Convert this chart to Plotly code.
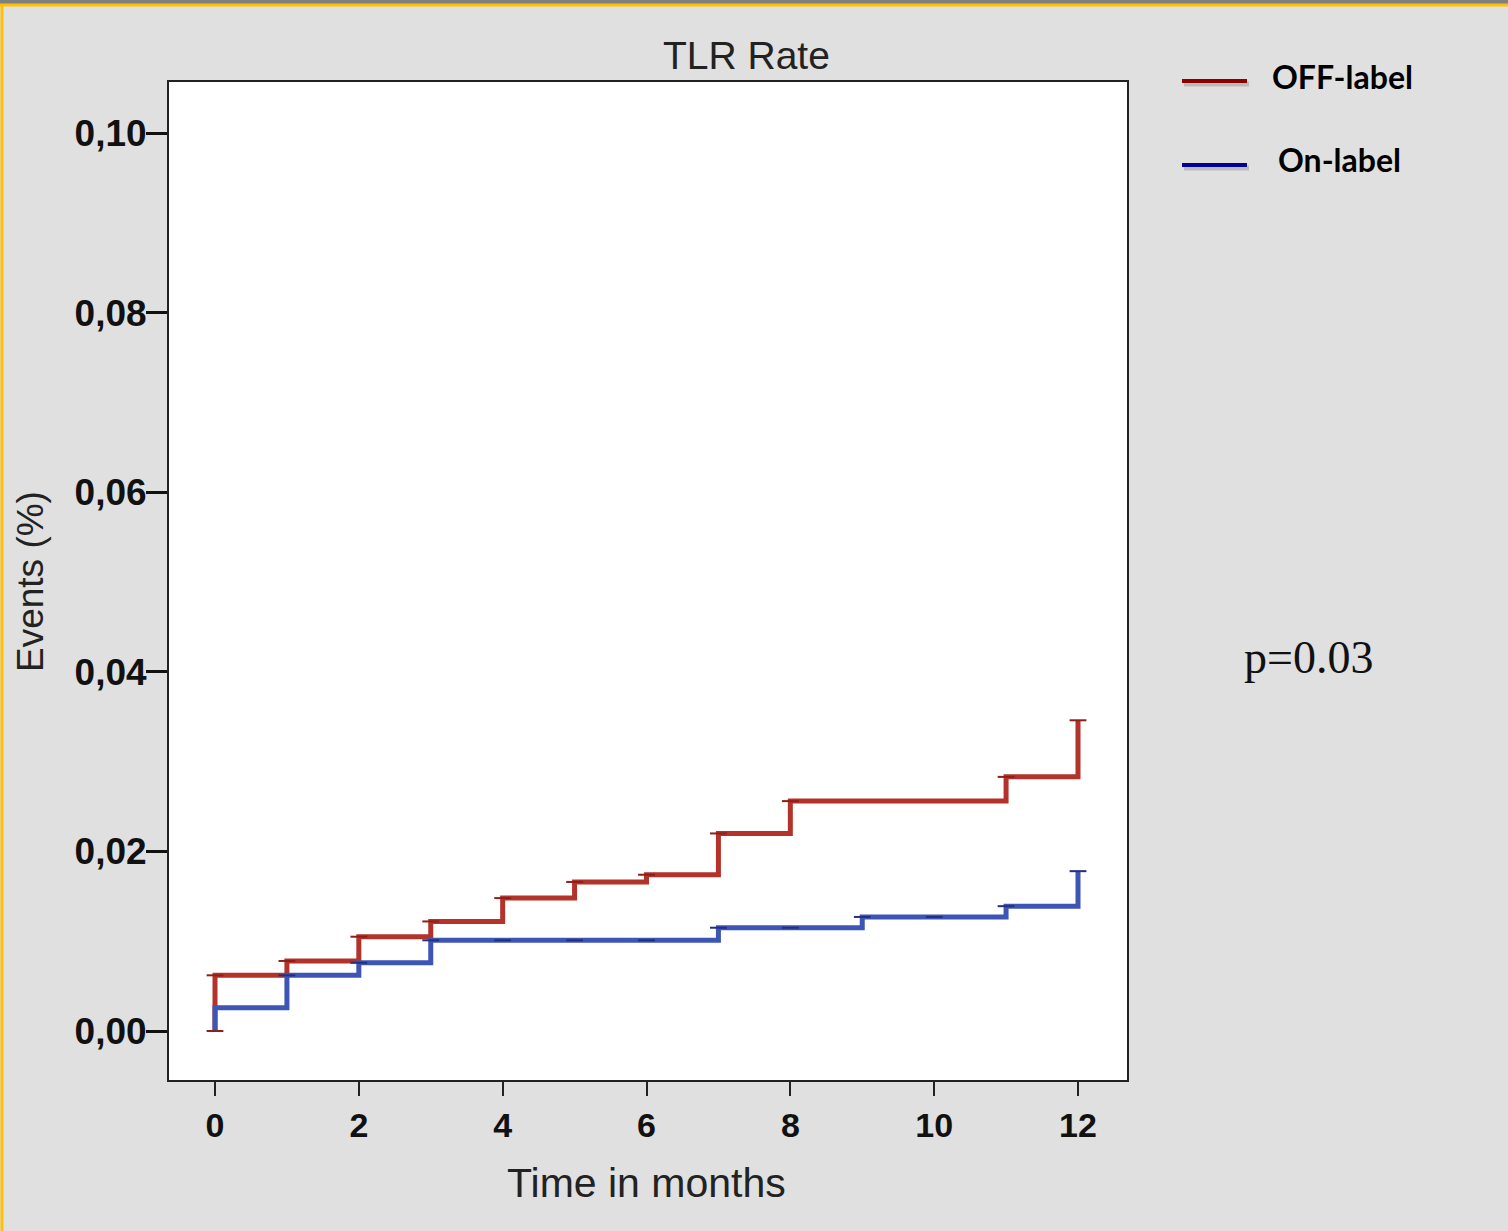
import numpy as np
import plotly.graph_objects as go

# ---- data ----
off_times = [0, 0, 1, 2, 3, 4, 5, 6, 7, 8, 11, 12]
off_values = [0.0, 0.0062, 0.0078, 0.0105, 0.0122, 0.0148, 0.0166, 0.0174, 0.0220, 0.0256, 0.0283, 0.0346]
on_times = [0, 0, 1, 2, 3, 7, 9, 11, 12]
on_values = [0.0, 0.0026, 0.0062, 0.0076, 0.0101, 0.0115, 0.0127, 0.0139, 0.0178]
off_censor = [0, 1, 2, 3, 4, 5, 6, 7, 8, 11, 12]
on_censor = [1, 2, 3, 4, 5, 6, 7, 8, 9, 10, 11, 12]
x_ticks = [0, 2, 4, 6, 8, 10, 12]
y_ticks = [0.00, 0.02, 0.04, 0.06, 0.08, 0.10]
legend_names = ["OFF-label", "On-label"]

W, H = 1508, 1231
L, R, T, B = 169, 1127, 82, 1080


def px(x):
    return (x - L) / (R - L)


def py(y):
    return (B - y) / (B - T)


def step_at(times, values, t):
    idx = np.searchsorted(np.array(times), t, side="right") - 1
    return values[idx]


RED = "#B3322A"
BLUE = "#3D56B6"

fig = go.Figure()
fig.add_trace(go.Scatter(x=off_times, y=off_values, mode="lines", line_shape="hv",
                         line=dict(color=RED, width=5), name=legend_names[0], showlegend=False))
fig.add_trace(go.Scatter(x=on_times, y=on_values, mode="lines", line_shape="hv",
                         line=dict(color=BLUE, width=5), name=legend_names[1], showlegend=False))
fig.add_trace(go.Scatter(x=off_censor, y=[step_at(off_times, off_values, t) for t in off_censor],
                         mode="markers", marker=dict(symbol="line-ew", size=12,
                         line=dict(color="#8E1F16", width=2)), showlegend=False, hoverinfo="skip"))
fig.add_trace(go.Scatter(x=on_censor, y=[step_at(on_times, on_values, t) for t in on_censor],
                         mode="markers", marker=dict(symbol="line-ew", size=12,
                         line=dict(color="#22307E", width=2)), showlegend=False, hoverinfo="skip"))
fig.add_trace(go.Scatter(x=[0], y=[0], mode="markers",
                         marker=dict(symbol="line-ew", size=12, line=dict(color="#8E1F16", width=2)),
                         showlegend=False, hoverinfo="skip"))

x0_px, x12_px = 215, 1078
y0_px, y10_px = 1031, 133
xr = [(L - x0_px) / ((x12_px - x0_px) / 12), (R - x0_px) / ((x12_px - x0_px) / 12)]
yr = [(y0_px - B) / ((y0_px - y10_px) / 0.10), (y0_px - T) / ((y0_px - y10_px) / 0.10)]

fig.update_xaxes(range=xr, tickvals=x_ticks, ticktext=[str(v) for v in x_ticks],
                 showgrid=False, zeroline=False, showline=True, linecolor="#222", linewidth=2,
                 mirror=True, ticks="outside", ticklen=14, tickwidth=2, tickcolor="#222",
                 tickfont=dict(family="Liberation Sans", size=34, color="#111", weight="bold"))
fig.update_yaxes(range=yr, tickvals=y_ticks, tickformat=".2f",
                 showgrid=False, zeroline=False, showline=True, linecolor="#222", linewidth=2,
                 mirror=True, ticks="outside", ticklen=21, tickwidth=3, tickcolor="#111",
                 ticklabelstandoff=-8,
                 tickfont=dict(family="Liberation Sans", size=37, color="#111", weight="bold"))

annotations = [
    dict(text="TLR Rate", x=px(746), y=py(55), font=dict(family="Liberation Sans", size=39, color="#222")),
    dict(text="Time in months", x=px(646), y=py(1183), font=dict(family="Liberation Sans", size=41, color="#222")),
    dict(text="Events (%)", x=px(30), y=py(582), textangle=-90,
         font=dict(family="Liberation Sans", size=37, color="#222")),
    dict(text="p=0.03", x=px(1308), y=py(657), font=dict(family="Liberation Serif", size=46, color="#111")),
    dict(text="<b>" + legend_names[0] + "</b>", x=px(1270), y=py(77), xanchor="left",
         font=dict(family="Lato", size=32, color="#000")),
    dict(text="<b>" + legend_names[1] + "</b>", x=px(1276), y=py(160), xanchor="left",
         font=dict(family="Lato", size=32, color="#000")),
]
for a in annotations:
    a.update(xref="paper", yref="paper", showarrow=False)
    a.setdefault("xanchor", "center")
    a.setdefault("yanchor", "middle")

shapes = [
    dict(type="line", x0=px(1184), x1=px(1249), y0=py(84), y1=py(84), line=dict(color="#BBBBBB", width=5)),
    dict(type="line", x0=px(1182), x1=px(1247), y0=py(81), y1=py(81), line=dict(color="#8B0000", width=4)),
    dict(type="line", x0=px(1184), x1=px(1249), y0=py(168), y1=py(168), line=dict(color="#BBBBBB", width=5)),
    dict(type="line", x0=px(1182), x1=px(1247), y0=py(165), y1=py(165), line=dict(color="#000099", width=4)),
    dict(type="rect", x0=px(-5), x1=px(W + 5), y0=py(0), y1=py(4), fillcolor="#7F7F7F",
         line=dict(width=0), layer="below"),
    dict(type="line", x0=px(0), x1=px(W + 5), y0=py(5), y1=py(5), line=dict(color="#FFC000", width=3)),
    dict(type="line", x0=px(2), x1=px(2), y0=py(5), y1=py(H + 5), line=dict(color="#FFC000", width=3)),
]
for s in shapes:
    s.update(xref="paper", yref="paper")

fig.update_layout(
    width=W, height=H,
    margin=dict(l=L, r=W - R, t=T, b=H - B),
    paper_bgcolor="#E0E0E0", plot_bgcolor="#FFFFFF",
    separators=",.",
    showlegend=False,
    annotations=annotations,
    shapes=shapes,
)

fig.write_html("out.html", config={"displayModeBar": False},
               post_script="document.body.style.margin='0';document.body.style.overflow='hidden';")
